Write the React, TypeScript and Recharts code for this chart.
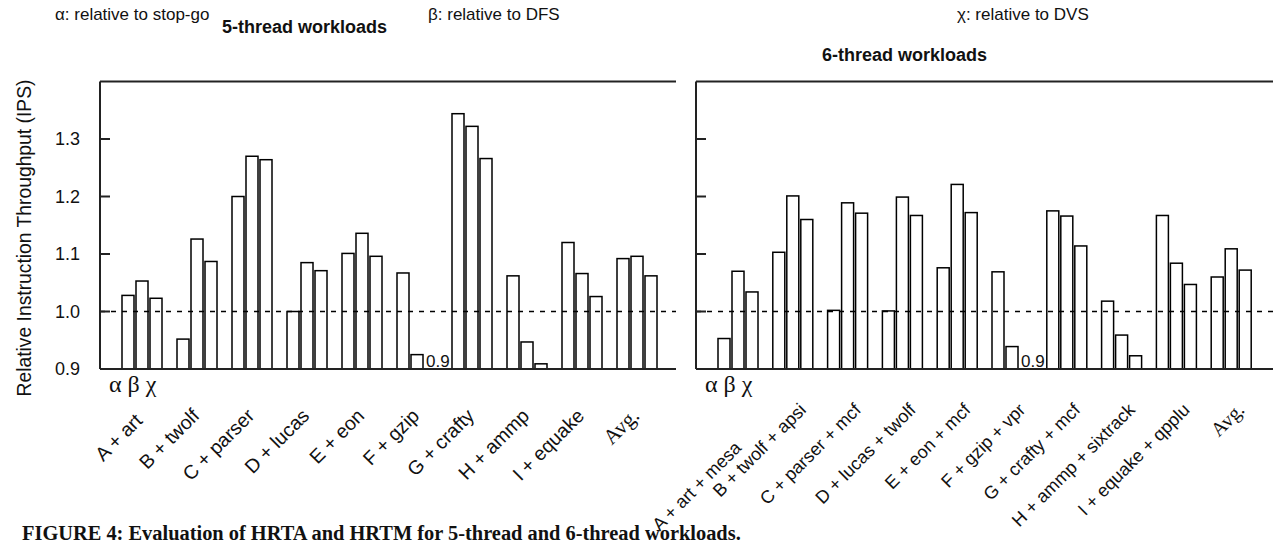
import React from 'react';
import { BarChart, Bar, XAxis, YAxis, ReferenceLine } from 'recharts';

// ---------- data ----------
const categories5 = ['A + art', 'B + twolf', 'C + parser', 'D + lucas', 'E + eon', 'F + gzip', 'G + crafty', 'H + ammp', 'I + equake', 'Avg.'];
const alpha5 = [1.028, 0.952, 1.2, 1.0, 1.101, 1.067, 1.344, 1.062, 1.12, 1.092];
const beta5 = [1.053, 1.126, 1.27, 1.085, 1.136, 0.925, 1.322, 0.947, 1.066, 1.096];
const chi5 = [1.023, 1.087, 1.264, 1.071, 1.096, 0.9, 1.266, 0.909, 1.026, 1.062];

const categories6 = ['A + art + mesa', 'B + twolf + apsi', 'C + parser + mcf', 'D + lucas + twolf', 'E + eon + mcf', 'F + gzip + vpr', 'G + crafty + mcf', 'H + ammp + sixtrack', 'I + equake + qpplu', 'Avg.'];
const alpha6 = [0.953, 1.103, 1.002, 1.001, 1.076, 1.069, 1.175, 1.018, 1.167, 1.06];
const beta6 = [1.07, 1.201, 1.189, 1.199, 1.221, 0.939, 1.166, 0.959, 1.084, 1.109];
const chi6 = [1.034, 1.16, 1.171, 1.167, 1.172, 0.9, 1.114, 0.923, 1.047, 1.072];

const yTicks = [0.9, 1.0, 1.1, 1.2, 1.3];
const yDomain: [number, number] = [0.9, 1.4];
const baseline = 1.0;

// ---------- styles ----------
const SANS = "'Liberation Sans', Arial, Helvetica, sans-serif";
const SERIF = "'Liberation Serif', 'Times New Roman', Times, serif";
const INK = '#111';
const FRAME = '#222';

const buildRows = (cats: string[], a: number[], b: number[], c: number[]) =>
  cats.map((name, i) => ({ name, alpha: a[i], beta: b[i], chi: c[i] }));

const rows5 = buildRows(categories5, alpha5, beta5, chi5);
const rows6 = buildRows(categories6, alpha6, beta6, chi6);

const leftTick = (showLabel: boolean) => (props: any) => {
  const { x, y, payload } = props;
  return (
    <g>
      <line x1={x} y1={y} x2={x + 10} y2={y} stroke={FRAME} strokeWidth={2} />
      {showLabel && (
        <text x={x - 20} y={y} dy="0.36em" textAnchor="end" fontSize={18} fontFamily={SANS} fill={INK}>
          {Number(payload.value).toFixed(1)}
        </text>
      )}
    </g>
  );
};

const rightTick = (props: any) => {
  const { x, y } = props;
  return <line x1={x - 10} y1={y} x2={x} y2={y} stroke={FRAME} strokeWidth={2} />;
};

type TickLayout = { dx: number; dy: number; size: number; first: { dx: number; dy: number } };

const xTick = (lay: TickLayout) => (props: any) => {
  const { x, y, payload, index } = props;
  const label = String(payload.value);
  const serif = label === 'Avg.';
  const ax = x + (index === 0 ? lay.first.dx : lay.dx);
  const ay = y + (index === 0 ? lay.first.dy : lay.dy);
  return (
    <text
      x={ax}
      y={ay}
      transform={`rotate(-45 ${ax} ${ay})`}
      textAnchor="end"
      fontSize={serif ? lay.size + 2 : lay.size}
      fontFamily={serif ? SERIF : SANS}
      fill={INK}
    >
      {label}
    </text>
  );
};

// bar shape: outlined rectangle; a bar that sits at the axis floor gets its value written instead
const makeShape = (key: string) => (props: any) => {
  const { x, y, width, height, payload } = props;
  const v = Number(payload?.[key]);
  if (!(height > 0.5)) {
    return (
      <text x={x + 1} y={y - 2} fontSize={17} fontFamily={SANS} fill={INK}>
        {v.toFixed(1)}
      </text>
    );
  }
  return <rect x={x} y={y} width={width} height={height} fill="#fff" stroke="#000" strokeWidth={1.5} />;
};

type PanelProps = {
  rows: any[];
  width: number;
  leftAxisWidth: number;
  marginRight: number;
  padding: { left: number; right: number };
  showYLabels: boolean;
  layout: TickLayout;
};

const Panel = ({ rows, width, leftAxisWidth, marginRight, padding, showYLabels, layout }: PanelProps) => (
  <BarChart
    width={width}
    height={543}
    data={rows}
    margin={{ top: 81.5, right: marginRight, left: 0, bottom: 0 }}
    barSize={12}
    barGap={2}
  >
    <XAxis
      dataKey="name"
      type="category"
      height={174}
      interval={0}
      padding={padding}
      tickLine={false}
      tickSize={0}
      tickMargin={0}
      axisLine={{ stroke: FRAME, strokeWidth: 2 }}
      tick={xTick(layout)}
    />
    <YAxis
      type="number"
      domain={yDomain}
      ticks={yTicks}
      width={leftAxisWidth}
      allowDataOverflow
      tickLine={false}
      tickSize={0}
      tickMargin={0}
      axisLine={{ stroke: FRAME, strokeWidth: 2 }}
      tick={leftTick(showYLabels)}
    />
    <YAxis
      yAxisId="r"
      orientation="right"
      type="number"
      domain={yDomain}
      ticks={yTicks}
      width={0}
      allowDataOverflow
      tickLine={false}
      tickSize={0}
      tickMargin={0}
      axisLine={{ stroke: FRAME, strokeWidth: 2 }}
      tick={rightTick}
    />
    <Bar dataKey="alpha" shape={makeShape('alpha')} isAnimationActive={false} />
    <Bar dataKey="beta" shape={makeShape('beta')} isAnimationActive={false} />
    <Bar dataKey="chi" shape={makeShape('chi')} isAnimationActive={false} />
    <ReferenceLine y={baseline} stroke="#000" strokeWidth={1.3} strokeDasharray="5 6" />
    <ReferenceLine y={yDomain[1]} stroke={FRAME} strokeWidth={2} />
  </BarChart>
);

const layout5: TickLayout = { dx: 4, dy: 48, size: 19.5, first: { dx: 2, dy: 53 } };
const layout6: TickLayout = { dx: 14, dy: 42, size: 18, first: { dx: 4, dy: 80 } };

export default function App() {
  return (
    <div style={{ position: 'absolute', left: 0, top: 0, width: 1278, height: 543, background: '#fff', overflow: 'hidden' }}>
      <div style={{ position: 'absolute', left: 0, top: 0 }}>
        <Panel rows={rows5} width={690} leftAxisWidth={100} marginRight={14} padding={{ left: 14, right: 12 }} showYLabels layout={layout5} />
      </div>
      <div style={{ position: 'absolute', left: 640, top: 0 }}>
        <Panel rows={rows6} width={638} leftAxisWidth={56} marginRight={5} padding={{ left: 15, right: 14 }} showYLabels={false} layout={layout6} />
      </div>
      <svg width={1278} height={543} style={{ position: 'absolute', left: 0, top: 0, pointerEvents: 'none' }}>
        <g fontFamily={SANS} fill={INK} fontSize={17}>
          <text x={55} y={20}>α: relative to stop-go</text>
          <text x={428} y={20}>β: relative to DFS</text>
          <text x={957} y={20}>χ: relative to DVS</text>
        </g>
        <g fontFamily={SANS} fill={INK} fontSize={18} fontWeight="bold">
          <text x={222} y={33}>5-thread workloads</text>
          <text x={822} y={61}>6-thread workloads</text>
        </g>
        <text x={31} y={238} transform="rotate(-90 31 238)" textAnchor="middle" fontFamily={SANS} fontSize={19.3} fill={INK}>
          Relative Instruction Throughput (IPS)
        </text>
        <g fontFamily={SERIF} fill={INK} fontSize={24}>
          <text x={109} y={392}>α β χ</text>
          <text x={705} y={392}>α β χ</text>
        </g>
        <text x={22} y={540} fontFamily={SERIF} fontWeight="bold" fontSize={20.4} fill={INK}>
          FIGURE 4: Evaluation of HRTA and HRTM for 5-thread and 6-thread workloads.
        </text>
      </svg>
    </div>
  );
}
